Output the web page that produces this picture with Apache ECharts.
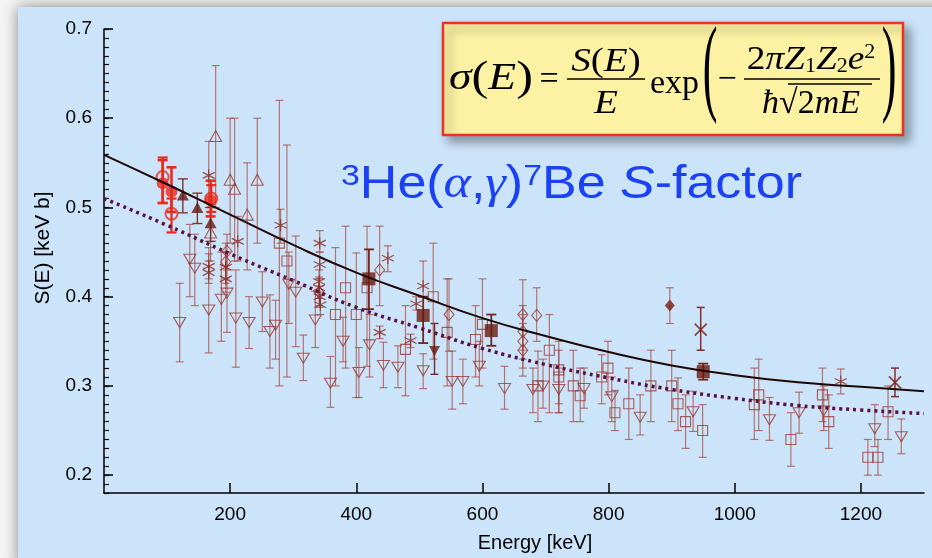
<!DOCTYPE html>
<html>
<head>
<meta charset="utf-8">
<script src="https://cdn.jsdelivr.net/npm/echarts@6/dist/echarts.min.js"></script>
<style>
  html, body { margin: 0; padding: 0; background: #f4f4f4; }
  #chart { width: 932px; height: 558px; }
</style>
</head>
<body>
<div id="chart"></div>
<script>
// axis ticks
var energyTicks = [200, 400, 600, 800, 1000, 1200];
var sTicks = [0.2, 0.3, 0.4, 0.5, 0.6, 0.7];

// fitted curves
var curveE = [0, 100, 200, 300, 400, 500, 600, 700, 800, 900, 1000, 1100, 1200, 1300];
var solidS = [0.559, 0.526, 0.492, 0.458, 0.427, 0.401, 0.376, 0.356, 0.338, 0.323, 0.312, 0.304, 0.299, 0.294];
var dottedS = [0.51, 0.48, 0.448, 0.418, 0.388, 0.365, 0.342, 0.324, 0.309, 0.296, 0.286, 0.278, 0.273, 0.269];

// data points: [E, S, low, high]
var redFilled = [[93, 0.527, 0.505, 0.553], [107, 0.518, 0.495, 0.545], [169, 0.508, 0.49, 0.53]];
var redOpen = [[93, 0.534, 0.505, 0.556], [107, 0.493, 0.472, 0.51], [170, 0.51, 0.495, 0.525]];
var darkTriUp = [[125, 0.514, 0.494, 0.532], [148, 0.5, 0.482, 0.516], [169, 0.483, 0.462, 0.5]];
var openTriUp = [[177, 0.58, 0.5, 0.659], [200, 0.531, 0.46, 0.6], [207, 0.521, 0.44, 0.6], [227, 0.492, 0.43, 0.55],
  [243, 0.531, 0.46, 0.6], [169, 0.472, 0.44, 0.5]];
var openTriDown = [[120, 0.371, 0.327, 0.415], [136, 0.442, 0.4, 0.481], [144, 0.432, 0.39, 0.47], [166, 0.385, 0.337, 0.455],
  [186, 0.397, 0.35, 0.45], [195, 0.404, 0.36, 0.45], [209, 0.376, 0.321, 0.43], [230, 0.371, 0.342, 0.4],
  [251, 0.394, 0.361, 0.428], [263, 0.361, 0.32, 0.402], [272, 0.368, 0.33, 0.396], [293, 0.414, 0.37, 0.45],
  [304, 0.405, 0.344, 0.468], [316, 0.331, 0.306, 0.357], [335, 0.374, 0.343, 0.406], [359, 0.303, 0.276, 0.333],
  [379, 0.35, 0.327, 0.377], [404, 0.315, 0.287, 0.343], [421, 0.346, 0.31, 0.38], [443, 0.323, 0.298, 0.349],
  [466, 0.321, 0.298, 0.345], [506, 0.317, 0.297, 0.336], [552, 0.305, 0.274, 0.339], [569, 0.305, 0.28, 0.33],
  [595, 0.322, 0.3, 0.35], [635, 0.297, 0.274, 0.322], [680, 0.296, 0.27, 0.32], [696, 0.3, 0.275, 0.33],
  [721, 0.296, 0.27, 0.32], [761, 0.297, 0.275, 0.32], [805, 0.288, 0.26, 0.31], [850, 0.265, 0.245, 0.29],
  [934, 0.271, 0.249, 0.294], [1055, 0.262, 0.239, 0.287], [1102, 0.27, 0.247, 0.293], [1141, 0.272, 0.25, 0.3],
  [1222, 0.252, 0.232, 0.279], [1264, 0.243, 0.224, 0.263]];
var asterisks = [[166, 0.536, 0.5, 0.574], [166, 0.434, 0.42, 0.448], [166, 0.427, 0.415, 0.44], [193, 0.433, 0.415, 0.45],
  [193, 0.42, 0.405, 0.435], [212, 0.462, 0.44, 0.49], [280, 0.48, 0.46, 0.498], [342, 0.46, 0.45, 0.474],
  [342, 0.436, 0.42, 0.45], [341, 0.417, 0.405, 0.43], [341, 0.41, 0.398, 0.422], [342, 0.4, 0.388, 0.412],
  [343, 0.391, 0.38, 0.403], [437, 0.36, 0.353, 0.367], [450, 0.443, 0.428, 0.457], [486, 0.351, 0.343, 0.358],
  [495, 0.392, 0.385, 0.4], [506, 0.412, 0.4, 0.44], [1168, 0.305, 0.291, 0.319]];
var crosses = [[946, 0.363, 0.34, 0.388], [1254, 0.304, 0.288, 0.32]];
var openSquares = [[278, 0.46, 0.3, 0.62], [290, 0.44, 0.31, 0.57], [367, 0.38, 0.3, 0.455], [383, 0.41, 0.32, 0.479],
  [400, 0.38, 0.287, 0.449], [417, 0.41, 0.322, 0.479], [478, 0.341, 0.289, 0.39], [522, 0.4, 0.33, 0.46],
  [544, 0.36, 0.3, 0.42], [589, 0.352, 0.31, 0.39], [600, 0.369, 0.32, 0.42], [706, 0.34, 0.27, 0.38],
  [688, 0.3, 0.26, 0.339], [721, 0.318, 0.28, 0.35], [721, 0.31, 0.27, 0.34], [744, 0.3, 0.26, 0.34],
  [755, 0.289, 0.26, 0.32], [789, 0.31, 0.28, 0.335], [799, 0.32, 0.29, 0.35], [810, 0.27, 0.25, 0.295],
  [832, 0.28, 0.24, 0.32], [867, 0.3, 0.26, 0.34], [900, 0.3, 0.26, 0.34], [910, 0.28, 0.25, 0.309],
  [922, 0.26, 0.23, 0.29], [949, 0.25, 0.22, 0.279], [1031, 0.279, 0.24, 0.32], [1038, 0.29, 0.25, 0.33],
  [1089, 0.24, 0.21, 0.27], [1139, 0.29, 0.26, 0.32], [1149, 0.26, 0.23, 0.29], [1211, 0.22, 0.2, 0.24],
  [1227, 0.22, 0.2, 0.24], [1243, 0.271, 0.24, 0.3]];
var openDiamonds = [[195, 0.451, 0.43, 0.47], [193, 0.439, 0.42, 0.46], [341, 0.405, 0.39, 0.42], [437, 0.43, 0.39, 0.479],
  [547, 0.38, 0.339, 0.42], [664, 0.38, 0.34, 0.419], [664, 0.361, 0.33, 0.39], [664, 0.35, 0.32, 0.38],
  [664, 0.34, 0.311, 0.37], [686, 0.379, 0.35, 0.41]];
var filledSquares = [[420, 0.42, 0.386, 0.453], [506, 0.379, 0.348, 0.4], [614, 0.362, 0.345, 0.38], [950, 0.316, 0.307, 0.325]];
var filledDiamonds = [[897, 0.39, 0.37, 0.41]];
var filledTriDown = [[524, 0.339, 0.313, 0.37]];

var myChart = echarts.init(document.getElementById("chart"));

function zip(xs, ys) {
  return xs.map(function (x, i) {
    return [x, ys[i]];
  });
}

// error bars with caps
function errorBars(data, color, width, cap) {
  return {
    type: "custom",
    data: data,
    z: 2,
    silent: true,
    renderItem: function (params, api) {
      var lo = api.coord([api.value(0), api.value(2)]);
      var hi = api.coord([api.value(0), api.value(3)]);
      var style = { stroke: color, lineWidth: width, fill: null };
      return {
        type: "group",
        children: [
          { type: "line", shape: { x1: lo[0], y1: lo[1], x2: hi[0], y2: hi[1] }, style: style },
          { type: "line", shape: { x1: lo[0] - cap, y1: lo[1], x2: lo[0] + cap, y2: lo[1] }, style: style },
          { type: "line", shape: { x1: hi[0] - cap, y1: hi[1], x2: hi[0] + cap, y2: hi[1] }, style: style },
        ],
      };
    },
  };
}

function markers(data, symbol, size, itemStyle, rotate) {
  return {
    type: "scatter",
    data: data,
    z: 3,
    symbol: symbol,
    symbolSize: size,
    symbolRotate: rotate || 0,
    itemStyle: itemStyle,
  };
}

var thin = "rgba(165,68,58,0.7)";
var brown = "#983a30";
var dark = "#6a1a10";
var red = "#ea2a1c";
var open = function (c, w) {
  return { color: "rgba(0,0,0,0)", borderColor: c, borderWidth: w || 1.1 };
};
var asteriskPath = "path://M5,0L5,10M0.67,2.5L9.33,7.5M9.33,2.5L0.67,7.5";
var crossPath = "path://M0,0L10,10M10,0L0,10";

var series = [
  errorBars(openTriDown, thin, 1.2, 4),
  errorBars(openTriUp, thin, 1.2, 4),
  errorBars(openSquares, thin, 1.2, 4),
  errorBars(openDiamonds, thin, 1.2, 4),
  errorBars(asterisks, thin, 1.2, 4),
  errorBars(crosses, "rgba(120,30,20,0.9)", 1.5, 4),
  errorBars(darkTriUp, "rgba(120,35,25,0.9)", 1.4, 5),
  errorBars(filledSquares, "rgba(110,28,18,0.95)", 1.8, 5),
  errorBars(filledDiamonds, thin, 1.2, 4),
  errorBars(filledTriDown, "rgba(110,28,18,0.9)", 1.4, 4),
  errorBars(redFilled, red, 2.6, 5),
  errorBars(redOpen, red, 2.2, 5),
  {
    type: "line",
    data: zip(curveE, solidS),
    smooth: true,
    showSymbol: false,
    silent: true,
    z: 4,
    lineStyle: { color: "#1e0806", width: 2 },
  },
  {
    type: "line",
    data: zip(curveE, dottedS),
    smooth: true,
    showSymbol: false,
    silent: true,
    z: 4,
    lineStyle: { color: "#5a1040", width: 3.5, type: [3, 4], cap: "butt" },
  },
  markers(openTriDown, "triangle", [12, 10], open(brown), 180),
  markers(openTriUp, "triangle", [12, 11], open(brown)),
  markers(openSquares, "rect", 10, open(brown)),
  markers(openDiamonds, "diamond", [10, 12], open(brown)),
  markers(asterisks, asteriskPath, 12, open("#8a2a20", 1.2)),
  markers(crosses, crossPath, 12, open("#7a1e14", 1.8)),
  markers(darkTriUp, "triangle", [12, 11], { color: dark }),
  markers(filledSquares, "rect", 13, { color: dark }),
  markers(filledDiamonds, "diamond", [10, 12], { color: "#7a1e14" }),
  markers(filledTriDown, "triangle", [11, 10], { color: dark }, 180),
  markers(redOpen, "circle", 12, open(red, 2)),
  markers(redFilled, "circle", 12, { color: red }),
];

var serif = '"Liberation Serif", "Times New Roman", serif';
var sans = '"Liberation Sans", Arial, Helvetica, sans-serif';
var blue = "#1a41f5";

function txt(x, y, text, font, align, extra) {
  var el = {
    type: "text",
    x: x,
    y: y,
    z: 110,
    silent: true,
    style: {
      text: text,
      font: font,
      fill: "#000",
      align: align || "left",
      verticalAlign: "middle",
    },
  };
  if (extra) {
    for (var k in extra) el[k] = extra[k];
  }
  return el;
}

var option = {
  animation: false,
  backgroundColor: "#f4f4f4",
  grid: { left: 104, right: 8, top: 29, bottom: 65 },
  xAxis: {
    type: "value",
    min: 0,
    max: 1300,
    axisLine: { lineStyle: { color: "#000", width: 1.5 } },
    axisTick: { inside: true, length: 10, customValues: energyTicks, lineStyle: { color: "#000", width: 1.5 } },
    axisLabel: {
      customValues: energyTicks,
      color: "#000",
      fontSize: 19,
      fontFamily: sans,
      margin: 12,
      formatter: function (v) {
        return String(v);
      },
    },
    splitLine: { show: false },
  },
  yAxis: [
    {
      type: "value",
      min: 0.18,
      max: 0.7,
      axisLine: { show: true, lineStyle: { color: "#000", width: 1.5 } },
      axisTick: { inside: true, length: 9, customValues: sTicks, lineStyle: { color: "#000", width: 1.5 } },
      axisLabel: {
        customValues: sTicks,
        color: "#000",
        fontSize: 19,
        fontFamily: sans,
        margin: 12,
        formatter: function (v) {
          return v.toFixed(1);
        },
      },
      splitLine: { show: false },
    },
    {
      // minor ticks every 0.01
      type: "value",
      min: 0.18,
      max: 0.7,
      interval: 0.01,
      position: "left",
      axisLine: { show: false },
      axisTick: { inside: true, length: 5, lineStyle: { color: "#000", width: 1.2 } },
      axisLabel: { show: false },
      splitLine: { show: false },
    },
  ],
  graphic: [
    // slide panel
    {
      type: "rect",
      z: -100,
      silent: true,
      shape: { x: 18, y: 7, width: 930, height: 560 },
      style: { fill: "#cce4fa", shadowBlur: 14, shadowColor: "rgba(0,0,0,0.45)" },
    },
    // axis names
    txt(535, 543, "Energy [keV]", "20px " + sans, "center"),
    txt(43, 248, "S(E) [keV b]", "21px " + sans, "center", { rotation: Math.PI / 2 }),
    // title
    {
      type: "text",
      x: 341,
      y: 185,
      z: 110,
      scaleX: 1.13,
      silent: true,
      style: {
        text: "{s|3}{r|He(}{g|α}{r|,}{g|γ}{r|)}{s|7}{r|Be }{i|S}{r|-factor}",
        fill: blue,
        align: "left",
        verticalAlign: "middle",
        rich: {
          s: { font: "30px " + sans, fill: blue, verticalAlign: "top" },
          r: { font: "46px " + sans, fill: blue },
          i: { font: "italic 46px " + sans, fill: blue },
          g: { font: "italic 46px " + serif, fill: blue },
        },
      },
    },
    // formula box
    {
      type: "rect",
      z: 100,
      silent: true,
      shape: { x: 443, y: 23, width: 460, height: 112 },
      style: {
        fill: "#fdf1a3",
        stroke: "#ee3124",
        lineWidth: 2.5,
        shadowBlur: 10,
        shadowOffsetX: 6,
        shadowOffsetY: 6,
        shadowColor: "rgba(0,0,0,0.35)",
      },
    },
    {
      type: "text",
      x: 449,
      y: 79,
      z: 110,
      scaleX: 1.2,
      silent: true,
      style: {
        text: "{i|σ}{p|(}{i|E}{p|)}",
        align: "left",
        verticalAlign: "middle",
        rich: {
          i: { font: "italic 38px " + serif, fill: "#000" },
          p: { font: "42px " + serif, fill: "#000" },
        },
      },
    },
    txt(549, 80, "=", "34px " + serif, "center"),
    {
      type: "text",
      x: 606,
      y: 62,
      z: 110,
      scaleX: 1.15,
      silent: true,
      style: {
        text: "{i|S}{p|(}{i|E}{p|)}",
        align: "center",
        verticalAlign: "middle",
        rich: {
          i: { font: "italic 34px " + serif, fill: "#000" },
          p: { font: "34px " + serif, fill: "#000" },
        },
      },
    },
    { type: "line", z: 110, silent: true, shape: { x1: 567, y1: 79, x2: 645, y2: 79 }, style: { stroke: "#000", lineWidth: 1.5 } },
    txt(606, 104, "E", "italic 34px " + serif, "center", { scaleX: 1.15 }),
    txt(650, 84, "exp", "34px " + serif, "left"),
    txt(710, 72, "(", "34px " + serif, "center", { scaleY: 3.2, scaleX: 1.3 }),
    txt(727, 80, "−", "34px " + serif, "center"),
    {
      type: "text",
      x: 811,
      y: 60,
      z: 110,
      scaleX: 1.1,
      silent: true,
      style: {
        text: "{n|2}{i|πZ}{b|1}{i|Z}{b|2}{i|e}{t|2}",
        align: "center",
        verticalAlign: "middle",
        rich: {
          n: { font: "34px " + serif, fill: "#000" },
          i: { font: "italic 34px " + serif, fill: "#000" },
          b: { font: "20px " + serif, fill: "#000", verticalAlign: "bottom" },
          t: { font: "20px " + serif, fill: "#000", verticalAlign: "top" },
        },
      },
    },
    { type: "line", z: 110, silent: true, shape: { x1: 744, y1: 79, x2: 880, y2: 79 }, style: { stroke: "#000", lineWidth: 1.5 } },
    {
      type: "text",
      x: 811,
      y: 104,
      z: 110,
      silent: true,
      style: {
        text: "{i|ħ}{n|√2}{i|mE}",
        align: "center",
        verticalAlign: "middle",
        rich: {
          n: { font: "34px " + serif, fill: "#000" },
          i: { font: "italic 34px " + serif, fill: "#000" },
        },
      },
    },
    { type: "line", z: 110, silent: true, shape: { x1: 788, y1: 84, x2: 872, y2: 84 }, style: { stroke: "#000", lineWidth: 1.5 } },
    txt(889, 72, ")", "34px " + serif, "center", { scaleY: 3.2, scaleX: 1.3 }),
  ],
  series: series,
};
myChart.setOption(option);
</script>
</body>
</html>
